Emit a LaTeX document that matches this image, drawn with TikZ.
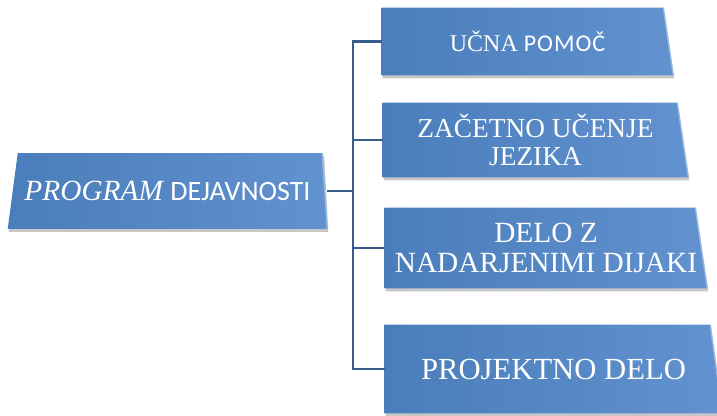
\documentclass[tikz,border=0pt]{standalone}
\usepackage{fontspec}
\setmainfont{Liberation Serif}
\newfontfamily\calibri{Carlito}
\usetikzlibrary{calc}

\definecolor{blokL}{RGB}{74,125,187}
\definecolor{blokR}{RGB}{98,146,207}
\definecolor{robR}{RGB}{150,185,228}
\definecolor{spojnica}{RGB}{56,93,138}

\pgfdeclarelayer{ozadje}
\pgfsetlayers{ozadje,main}

\begin{document}
\begin{tikzpicture}[x=0.75pt,y=0.75pt,yscale=-1,xscale=1,
    blok/.style={inner sep=0pt,text=white,align=center},
    polnilo/.style={left color=blokL,right color=blokR},
    senca/.style={fill=black,fill opacity=0.22},
    spoj/.style={draw=spojnica,line width=1.6pt}]
        \useasboundingbox (0,0) rectangle (717,415);

        % Text Node
        \node [blok,minimum width=239.25pt,minimum height=56.25pt,font=\fontsize{22}{24}\selectfont] (program) at (167.5,191)
            {\itshape PROGRAM {\calibri\upshape\fontsize{21}{24}\selectfont DEJAVNOSTI}};
        % Text Node
        \node [blok,minimum width=218.25pt,minimum height=50.25pt,font=\fontsize{18}{18}\selectfont] (pomoc) at (527.5,41.5)
            {UČNA {\calibri\addfontfeature{LetterSpace=4}\fontsize{18}{18}\selectfont POMOČ}};
        % Text Node
        \node [blok,minimum width=228.75pt,minimum height=55.5pt,font=\fontsize{20.5}{21.5}\selectfont] (jezik) at (535.5,140)
            {ZAČETNO UČENJE\\JEZIKA};
        % Text Node
        \node [blok,minimum width=241.5pt,minimum height=60pt,font=\fontsize{22}{22}\selectfont] (nadarjeni) at (546,248)
            {DELO Z\\NADARJENIMI DIJAKI};
        % Text Node
        \node [blok,minimum width=252.75pt,minimum height=66pt,font=\fontsize{23}{24}\selectfont] (projekt) at (553.5,369)
            {PROJEKTNO DELO};

        \begin{pgfonlayer}{ozadje}
        %Shape: Polygon [shadow]
        \path [senca] ($(program.north west)+(11,3)$) -- ($(program.north east)+(-3,3)$) -- ($(program.south east)+(1,3)$) -- ($(program.south west)+(1,3)$) -- cycle ;
        %Shape: Polygon
        \path [polnilo] ($(program.north west)+(10,0)$) -- ($(program.north east)+(-5,0)$) -- (program.south east) -- (program.south west) -- cycle ;
        \draw [robR,line width=1pt] ($(program.north east)+(-5,0)$) -- (program.south east) ;

        \foreach \ime/\zamik in {pomoc/10,jezik/11,nadarjeni/12,projekt/12}{
        %Shape: Polygon [shadow]
        \path [senca] ($(\ime.north west)+(1,3)$) -- ($(\ime.north east)+(1-\zamik,3)$) -- ($(\ime.south east)+(1,3)$) -- ($(\ime.south west)+(1,3)$) -- cycle ;
        %Shape: Polygon
        \path [polnilo] (\ime.north west) -- ($(\ime.north east)+(-\zamik,0)$) -- (\ime.south east) -- (\ime.south west) -- cycle ;
        \draw [robR,line width=1pt] ($(\ime.north east)+(-\zamik,0)$) -- (\ime.south east) ;
        }
        \end{pgfonlayer}

        %Straight Lines
        \draw [spoj] (program.east) -- ++(26,0) coordinate (vozel) ;
        \draw [spoj] (vozel) |- (pomoc.west) ;
        \draw [spoj] (vozel) |- (jezik.west) ;
        \draw [spoj] (vozel) |- (nadarjeni.west) ;
        \draw [spoj] (vozel) |- (projekt.west) ;

\end{tikzpicture}
\end{document}
